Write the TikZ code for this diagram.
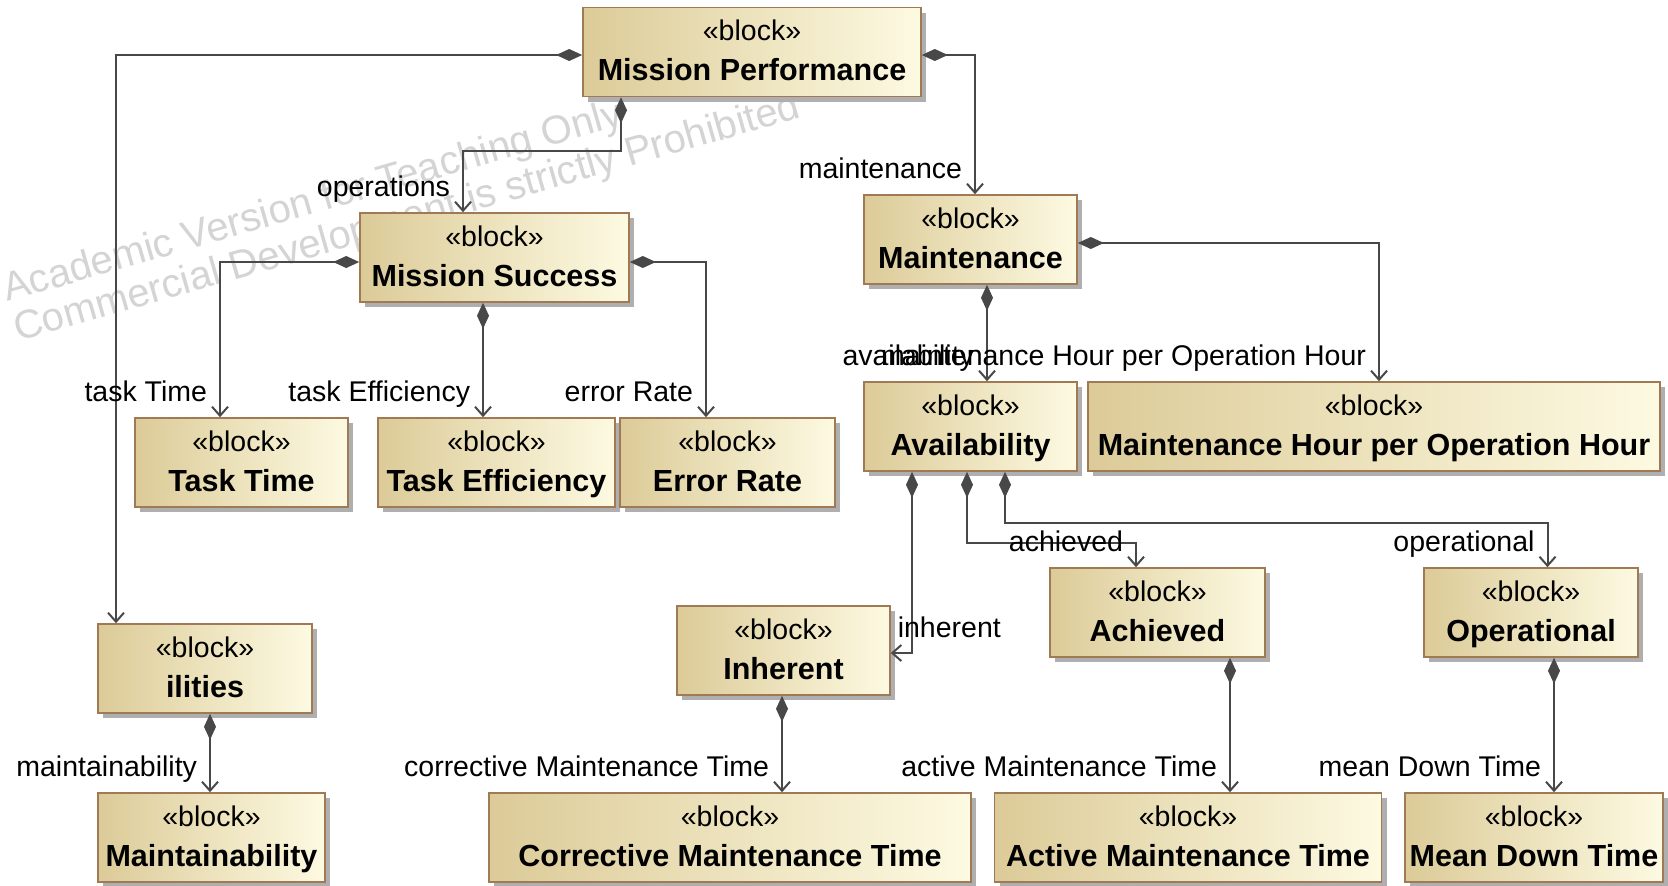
\documentclass[tikz,border=0pt]{standalone}
\usepackage{fontspec}
\setmainfont{Liberation Sans}
\usetikzlibrary{arrows.meta,shadows,calc}

\definecolor{blockL}{RGB}{220,203,152}
\definecolor{blockR}{RGB}{253,250,226}
\definecolor{blockEdge}{RGB}{160,122,84}
\definecolor{shadowGray}{RGB}{175,175,175}
\definecolor{lineGray}{RGB}{72,72,72}
\definecolor{wmGray}{RGB}{212,212,212}

\tikzset{
  blockbox/.style={rectangle, draw=blockEdge, line width=1.6pt,
    left color=blockL, right color=blockR, minimum height=89pt, inner sep=0pt,
    drop shadow={shadow xshift=5pt, shadow yshift=-5pt, fill=shadowGray, opacity=1}},
  stereo/.style={anchor=base, inner sep=0pt, font=\fontsize{28.5}{34}\selectfont},
  bname/.style={anchor=base, inner sep=0pt, font=\fontsize{30.5}{36}\selectfont\bfseries},
  lab/.style={inner sep=0pt, font=\fontsize{28.5}{34}\selectfont},
  comp/.style={draw=lineGray, line width=2pt,
    {Diamond[length=26pt,width=12pt,fill=lineGray]}-{Straight Barb[length=9pt,width=16pt]}},
  endlab/.style={lab, pos=1, anchor=base east, xshift=-12pt, yshift=16pt},
  watermark/.style={inner sep=0pt, anchor=base west, rotate=16, text=wmGray,
    font=\fontsize{40}{46}\selectfont}
}

% block with stereotype: name, centre x, centre y, width, title
\newcommand{\umlblock}[5]{%
  \node[blockbox, minimum width=#4pt] (#1) at (#2,#3) {};
  \node[stereo] (#1-s) at ([yshift=-34pt]#1.north) {«block»};
  \node[bname] (#1-n) at ([yshift=-74pt]#1.north) {#5};
}

\begin{document}
\begin{tikzpicture}[x=1pt,y=-1pt]
\useasboundingbox[fill=white] (0,0) rectangle (1668,886);

% tool watermark, beneath everything else
\node[watermark] (wm1) at (7,302) {Academic Version for Teaching Only};
\node[watermark] (wm2) at (18,342) {Commercial Development is strictly Prohibited};

% blocks
\umlblock{MP}{752}{52}{338}{Mission Performance}
\umlblock{MS}{494.5}{257.5}{269}{Mission Success}
\umlblock{TT}{241.5}{462.5}{213}{Task Time}
\umlblock{TE}{496.5}{462.5}{237}{Task Efficiency}
\umlblock{ER}{727.5}{462.5}{215}{Error Rate}
\umlblock{MT}{970.5}{239.5}{213}{Maintenance}
\umlblock{AV}{970.5}{426.5}{213}{Availability}
\umlblock{MH}{1374}{426.5}{572}{Maintenance Hour per Operation Hour}
\umlblock{IL}{205}{668.5}{214}{ilities}
\umlblock{MA}{211.5}{837.5}{227}{Maintainability}
\umlblock{IN}{783.5}{650.5}{213}{Inherent}
\umlblock{AC}{1157.5}{612.5}{215}{Achieved}
\umlblock{OP}{1531}{612.5}{214}{Operational}
\umlblock{CM}{730}{837.5}{482}{Corrective Maintenance Time}
\umlblock{AM}{1188}{837.5}{387}{Active Maintenance Time}
\umlblock{MD}{1534}{837.5}{258}{Mean Down Time}

% composite associations (diamond at the whole, open arrow at the part)
\draw[comp] ([yshift=-3pt]MP.west) -| ([xshift=-89pt]IL.north);
\draw[comp] ([xshift=-131pt]MP.south) -- ++(0,53.5) -| ([xshift=-31.5pt]MS.north)
  node[endlab] (l-op) {operations};
\draw[comp] ([yshift=-3pt]MP.east) -| ([xshift=4.5pt]MT.north)
  node[endlab] (l-mt) {maintenance};
\draw[comp] ([yshift=-4.5pt]MS.west) -| ([xshift=-21.5pt]TT.north)
  node[endlab] (l-tt) {task Time};
\draw[comp] ([xshift=-11.5pt]MS.south) -- ([xshift=-13.5pt]TE.north)
  node[endlab] (l-te) {task Efficiency};
\draw[comp] ([yshift=-4.5pt]MS.east) -| ([xshift=-21.5pt]ER.north)
  node[endlab] (l-er) {error Rate};
\draw[comp] ([xshift=16.5pt]MT.south) -- ([xshift=16.5pt]AV.north)
  node[endlab] (l-av) {availability};
\draw[comp] ([yshift=-3.5pt]MT.east) -| ([xshift=5pt]MH.north)
  node[endlab] (l-mh) {maintenance Hour per Operation Hour};
\draw[comp] ([xshift=-58.5pt]AV.south) |- ([yshift=-2.5pt]IN.east)
  node[lab, pos=1, anchor=base west, xshift=6pt, yshift=16pt] (l-in) {inherent};
\draw[comp] ([xshift=-3.5pt]AV.south) -- ++(0,71) -| ([xshift=-21.5pt]AC.north)
  node[endlab] (l-ac) {achieved};
\draw[comp] ([xshift=34.5pt]AV.south) -- ++(0,51) -| ([xshift=16.5pt]OP.north)
  node[endlab] (l-opn) {operational};
\draw[comp] ([xshift=5pt]IL.south) -- ([xshift=-1.5pt]MA.north)
  node[endlab] (l-ma) {maintainability};
\draw[comp] ([xshift=-1.5pt]IN.south) -- ([xshift=52pt]CM.north)
  node[endlab] (l-cm) {corrective Maintenance Time};
\draw[comp] ([xshift=72.5pt]AC.south) -- ([xshift=42pt]AM.north)
  node[endlab] (l-am) {active Maintenance Time};
\draw[comp] ([xshift=23pt]OP.south) -- ([xshift=20pt]MD.north)
  node[endlab] (l-md) {mean Down Time};
\end{tikzpicture}
\end{document}
